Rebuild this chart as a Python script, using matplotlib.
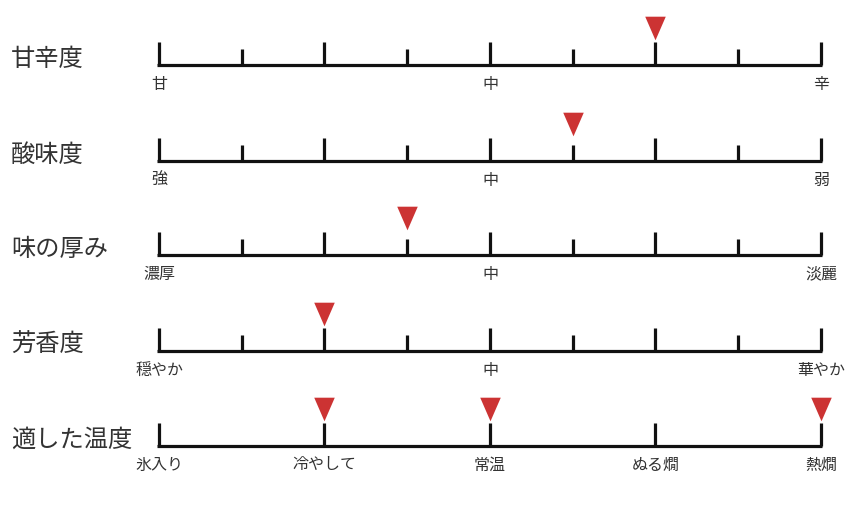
import matplotlib
matplotlib.use("Agg")
import matplotlib.pyplot as plt

plt.rcParams['font.family'] = ['Noto Sans CJK JP', 'DejaVu Sans']

# row titles, scale end labels and the marked positions
titles = ['甘辛度', '酸味度', '味の厚み', '芳香度', '適した温度']
steps = [8, 8, 8, 8, 4]
tick_labels = [
    {0: '甘', 4: '中', 8: '辛'},
    {0: '強', 4: '中', 8: '弱'},
    {0: '濃厚', 4: '中', 8: '淡麗'},
    {0: '穏やか', 4: '中', 8: '華やか'},
    {0: '氷入り', 1: '冷やして', 2: '常温', 3: 'ぬる燗', 4: '熱燗'},
]
marks = [[6], [5], [3], [2], [1, 2, 4]]

# layout in pixels
W, H = 850, 506
x0, x1 = 159, 821
row_y = [66, 162, 256, 352, 447]
major_h, minor_h = 23, 16
ink = '#111111'
text_c = '#333333'
red = '#cc3333'
tri = [(-0.87, 1), (0.87, 1), (0, -1)]

fig = plt.figure(figsize=(W / 100, H / 100), dpi=100)
ax = fig.add_axes([0, 0, 1, 1])
ax.set_xlim(0, W)
ax.set_ylim(H, 0)
ax.axis('off')

for title, n, labels, mk, y in zip(titles, steps, tick_labels, marks, row_y):
    xs = [x0 + (x1 - x0) * i / n for i in range(n + 1)]
    ax.plot([x0 - 1.5, x1 + 1.5], [y, y], color=ink, lw=2.3, solid_capstyle='butt')
    for i, x in enumerate(xs):
        h = major_h if (n == 4 or i % 2 == 0) else minor_h
        ax.plot([x, x], [y, y - h], color=ink, lw=2.3, solid_capstyle='butt')
    for i, lab in labels.items():
        ax.text(xs[i], y + 18, lab, ha='center', va='center', fontsize=11.5, color=text_c)
    ax.plot([xs[i] for i in mk], [y - 37.5] * len(mk), marker=tri, ms=17,
            color=red, ls='none', mec='none')
    ax.text(11, y - 7, title, ha='left', va='center', fontsize=17.5, color=text_c)

fig.savefig('out.png', dpi=100)
